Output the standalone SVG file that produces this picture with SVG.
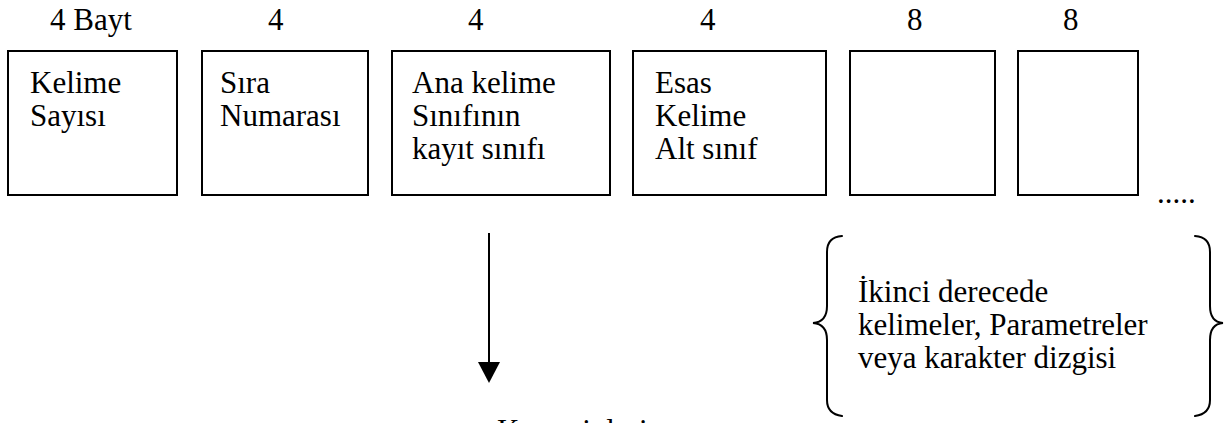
<svg xmlns="http://www.w3.org/2000/svg" width="1229" height="423" viewBox="0 0 1229 423">
  <style>
    text { font-family: "Liberation Serif", "Times New Roman", serif; font-size: 31px; fill: #000; }
    .box { fill: #fff; stroke: #000; stroke-width: 2; }
    .brace { fill: none; stroke: #000; stroke-width: 2; stroke-linecap: round; }
    .conn { stroke: #000; stroke-width: 2; fill: none; }
  </style>
  <rect width="1229" height="423" fill="#fff"/>

  <!-- size labels above each field -->
  <g id="sizes">
    <text x="50" y="30">4 Bayt</text>
    <text x="268" y="30">4</text>
    <text x="468" y="30">4</text>
    <text x="700" y="30">4</text>
    <text x="907" y="30">8</text>
    <text x="1063" y="30">8</text>
  </g>

  <g id="field-kelime-sayisi">
    <rect class="box" x="8" y="51" width="169" height="144"/>
    <text x="30" y="93">Kelime</text>
    <text x="30" y="126">Sayısı</text>
  </g>

  <g id="field-sira-numarasi">
    <rect class="box" x="202" y="51" width="166" height="144"/>
    <text x="220" y="93">Sıra</text>
    <text x="220" y="126">Numarası</text>
  </g>

  <g id="field-kayit-sinifi">
    <rect class="box" x="392" y="51" width="218" height="144"/>
    <text x="412" y="93">Ana kelime</text>
    <text x="412" y="126">Sınıfının</text>
    <text x="412" y="159">kayıt sınıfı</text>
  </g>

  <g id="field-alt-sinif">
    <rect class="box" x="633" y="51" width="193" height="144"/>
    <text x="655" y="93">Esas</text>
    <text x="655" y="126">Kelime</text>
    <text x="655" y="159">Alt sınıf</text>
  </g>

  <g id="field-8a">
    <rect class="box" x="850" y="51" width="145" height="144"/>
  </g>

  <g id="field-8b">
    <rect class="box" x="1018" y="51" width="120" height="144"/>
  </g>

  <g id="continuation">
    <text x="1157" y="203">.....</text>
  </g>

  <!-- arrow from the record-class field down to the record types -->
  <g id="connectors">
    <line class="conn" x1="489" y1="233" x2="489" y2="364"/>
    <polygon points="478,362 500,362 489,383" fill="#000"/>
  </g>

  <g id="kayit-tipleri">
    <text x="497" y="441">Kayıt tipleri</text>
  </g>

  <g id="ikincil-alanlar">
    <path class="brace" d="M842,236 Q827,237 827,252 L827,306 Q827,322 813,323 Q827,324 827,340 L827,400 Q827,414 842,416"/>
    <path class="brace" d="M1195,236 Q1210,237 1210,252 L1210,306 Q1210,322 1223,323 Q1210,324 1210,340 L1210,400 Q1210,414 1195,416"/>
    <text x="858" y="302">İkinci derecede</text>
    <text x="858" y="335">kelimeler, Parametreler</text>
    <text x="858" y="368">veya karakter dizgisi</text>
  </g>
</svg>
